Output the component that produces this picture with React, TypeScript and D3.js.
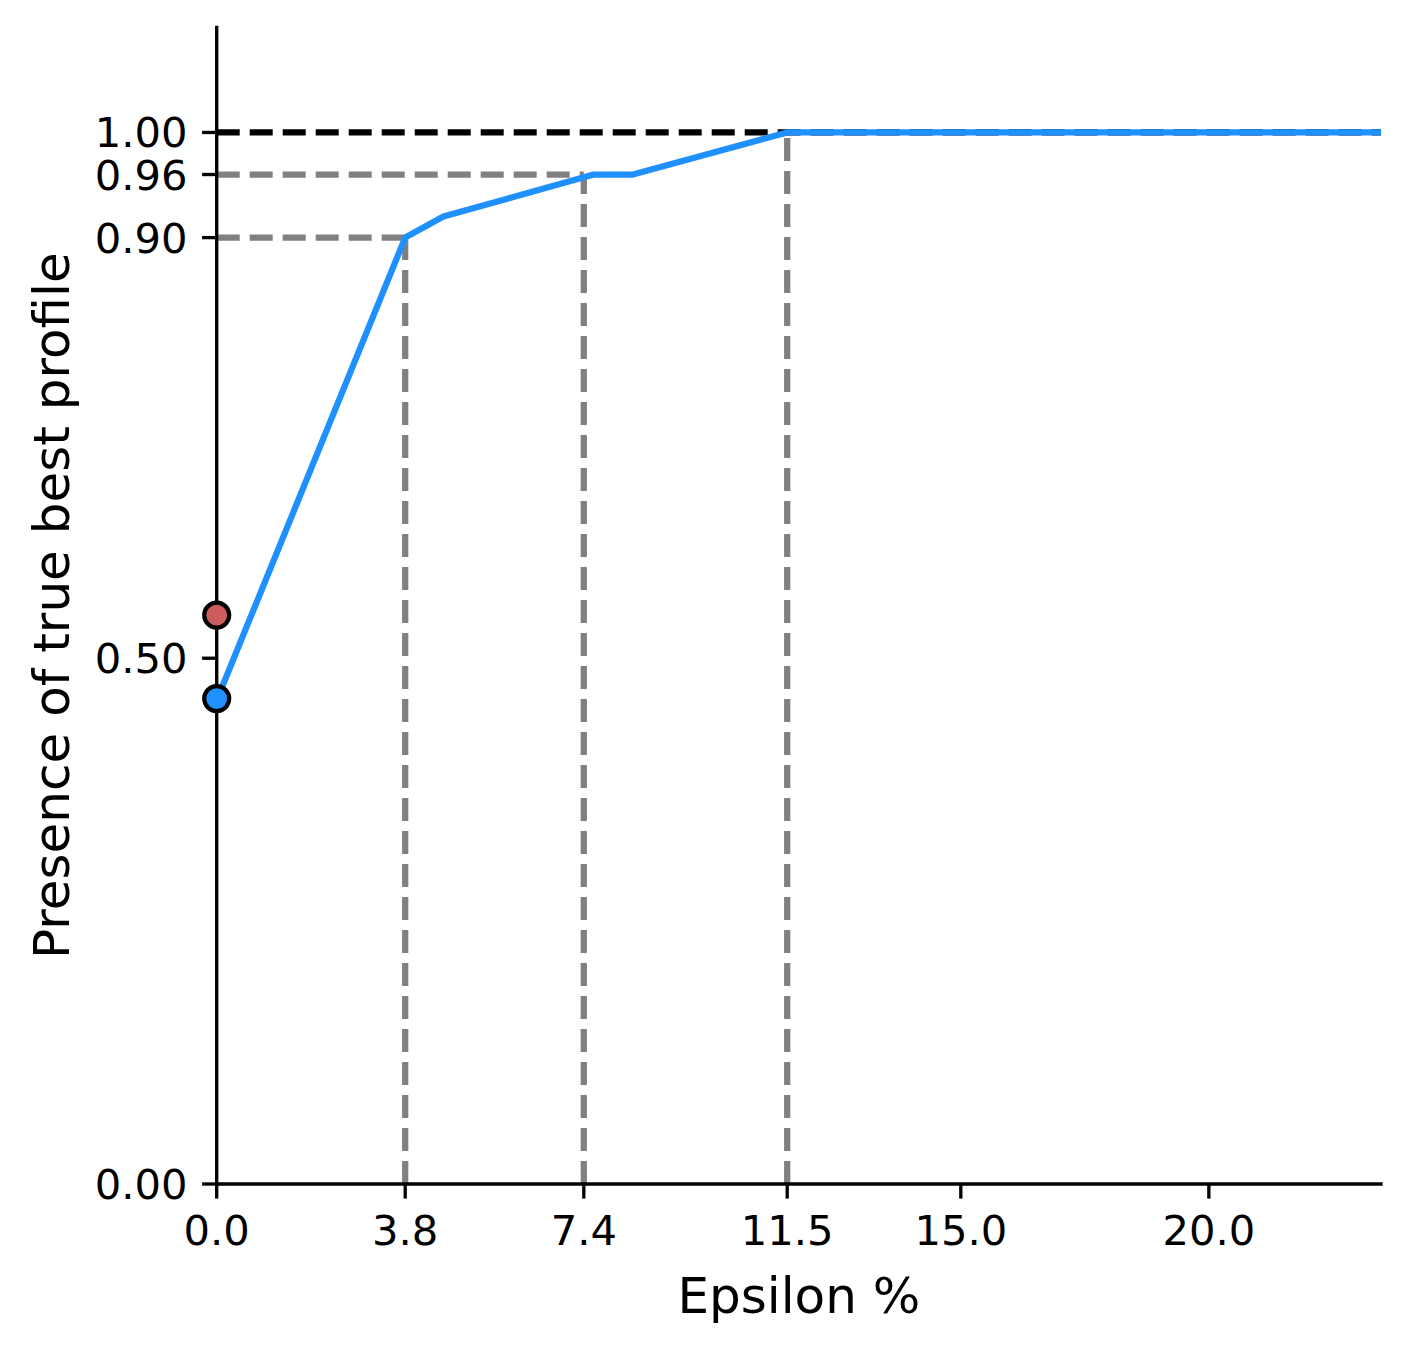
import React from "react";
import * as d3 from "d3";

const epsilon = [0, 3.8, 4.57, 7.6, 8.39, 11.5, 23.47];
const presence = [0.46, 0.9, 0.92, 0.96, 0.96, 1.0, 1.0];
const xTicks = [0, 3.8, 7.4, 11.5, 15.0, 20.0];
const xTickLabels = ["0.0", "3.8", "7.4", "11.5", "15.0", "20.0"];
const yTicks = [0, 0.5, 0.9, 0.96, 1.0];
const yTickLabels = ["0.00", "0.50", "0.90", "0.96", "1.00"];
const thresholds = [
  { x: 3.8, y: 0.9 },
  { x: 7.4, y: 0.96 },
  { x: 11.5, y: 1.0 },
];
const points = [
  { x: 0, y: 0.541, color: "#CD5C5C" },
  { x: 0, y: 0.4616, color: "#1E90FF" },
];

const W = 1409;
const H = 1350;
const left = 216.7;
const right = 1381;
const top = 27.3;
const bottom = 1184;

export default function App() {
  const x = d3.scaleLinear().domain([0, 23.47]).range([left, right]);
  const y = d3.scaleLinear().domain([0, 1.1]).range([bottom, top]);
  const line = d3
    .line<number>()
    .x((_, i) => x(epsilon[i]))
    .y((d) => y(d));
  const font = "DejaVu Sans, sans-serif";
  const dash = "23 10";
  const lw = 6.25;
  return (
    <svg
      width={W}
      height={H}
      style={{ position: "absolute", left: 0, top: 0, background: "white" }}
      fontFamily={font}
    >
      <rect x={0} y={0} width={W} height={H} fill="white" />
      {/* horizontal threshold lines */}
      {thresholds.slice(0, 2).map((t, i) => (
        <line
          key={"h" + i}
          x1={x(0)}
          x2={x(t.x)}
          y1={y(t.y)}
          y2={y(t.y)}
          stroke="#808080"
          strokeWidth={lw}
          strokeDasharray={dash}
        />
      ))}
      {/* vertical threshold lines */}
      {thresholds.map((t, i) => (
        <line
          key={"v" + i}
          x1={x(t.x)}
          x2={x(t.x)}
          y1={y(0)}
          y2={y(t.y)}
          stroke="#808080"
          strokeWidth={lw}
          strokeDasharray={dash}
        />
      ))}
      <line
        x1={x(0)}
        x2={x(23.47)}
        y1={y(1)}
        y2={y(1)}
        stroke="#000"
        strokeWidth={lw}
        strokeDasharray={dash}
      />
      <path
        d={line(presence) || ""}
        fill="none"
        stroke="#1E90FF"
        strokeWidth={lw}
        strokeLinejoin="round"
      />
      {/* spines */}
      <line x1={left} x2={left} y1={top} y2={bottom} stroke="#000" strokeWidth={3.33} strokeLinecap="square" />
      <line x1={left} x2={right} y1={bottom} y2={bottom} stroke="#000" strokeWidth={3.33} strokeLinecap="square" />
      {/* x ticks */}
      {xTicks.map((t, i) => (
        <g key={"xt" + i}>
          <line x1={x(t)} x2={x(t)} y1={bottom} y2={bottom + 14.6} stroke="#000" strokeWidth={3.33} />
          <text x={x(t)} y={bottom + 61} textAnchor="middle" fontSize={41.67} fill="#000">
            {xTickLabels[i]}
          </text>
        </g>
      ))}
      {/* y ticks */}
      {yTicks.map((t, i) => (
        <g key={"yt" + i}>
          <line x1={left - 14.6} x2={left} y1={y(t)} y2={y(t)} stroke="#000" strokeWidth={3.33} />
          <text x={left - 29.2} y={y(t)} dy="0.36em" textAnchor="end" fontSize={41.67} fill="#000">
            {yTickLabels[i]}
          </text>
        </g>
      ))}
      {points.map((p, i) => (
        <circle key={"p" + i} cx={x(p.x)} cy={y(p.y)} r={12.5} fill={p.color} stroke="#000" strokeWidth={4.17} />
      ))}
      <text x={(left + right) / 2} y={1313} textAnchor="middle" fontSize={50} fill="#000">
        Epsilon %
      </text>
      <text
        transform={`translate(69, ${(top + bottom) / 2}) rotate(-90)`}
        textAnchor="middle"
        fontSize={50}
        fill="#000"
      >
        Presence of true best profile
      </text>
    </svg>
  );
}
